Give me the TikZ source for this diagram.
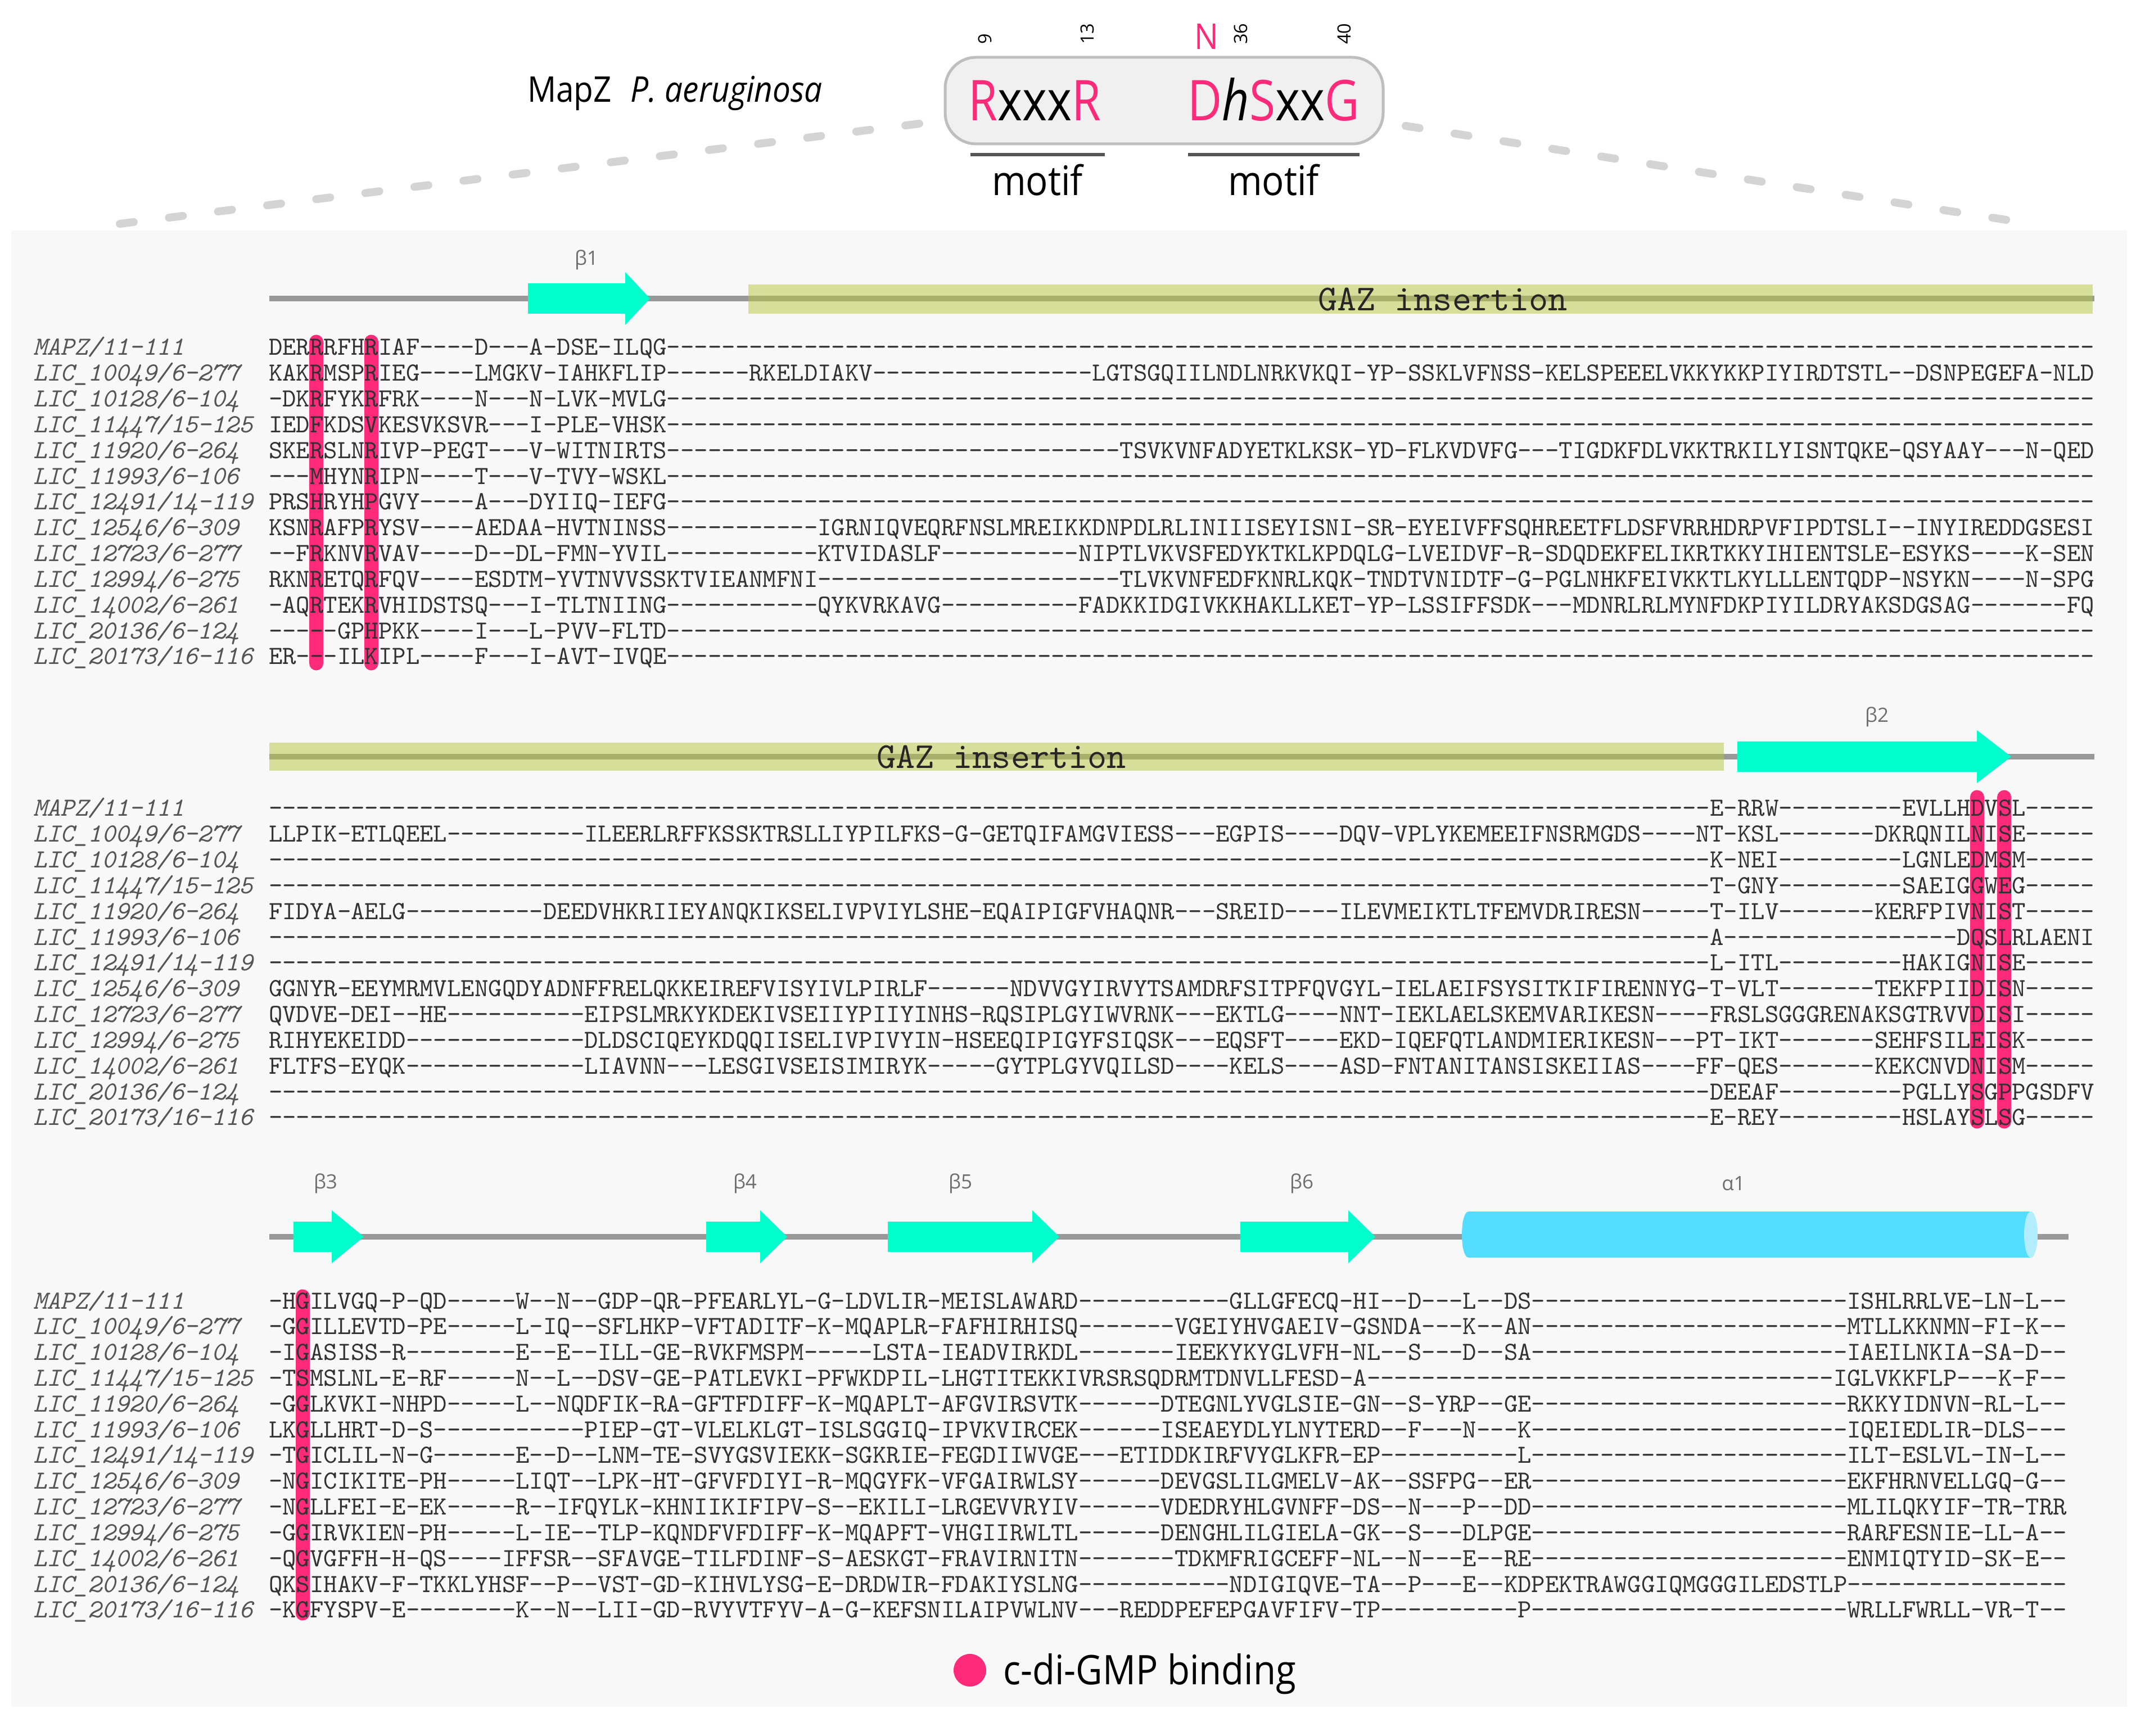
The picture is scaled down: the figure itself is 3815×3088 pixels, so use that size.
\documentclass[tikz,border=0pt]{standalone}
\usepackage{fontspec}
\setmainfont{Open Sans}
\newfontfamily\seqfont{lmmono10-regular}[Extension=.otf, ItalicFont=lmmono10-italic]
\usepackage{graphicx}

\definecolor{bindpink}{RGB}{255,42,122}
\definecolor{strandcol}{RGB}{0,255,204}
\definecolor{helixcol}{RGB}{85,221,255}
\definecolor{helixcap}{RGB}{178,238,255}
\definecolor{gazcol}{RGB}{181,200,62}
\definecolor{bbgray}{RGB}{153,153,153}
\definecolor{panelcol}{RGB}{248,248,248}
\definecolor{boxfill}{RGB}{240,240,240}
\definecolor{boxline}{RGB}{190,190,190}
\definecolor{guidecol}{RGB}{212,212,212}
\definecolor{barcol}{RGB}{85,85,85}
\definecolor{seqgray}{RGB}{50,50,50}
\definecolor{namegray}{RGB}{85,85,85}
\definecolor{labelgray}{RGB}{110,110,110}

% a run of n gaps in the alignment
\ExplSyntaxOn
\cs_new:Npn \gp #1 { \prg_replicate:nn {#1} {-} }
\ExplSyntaxOff

% the labels of the original are set a bit narrow
\newcommand\sqz[2][0.9]{\scalebox{#1}[1]{#2}}

% beta strand: start, base of the head, tip, height of the track
\newcommand\strand[4]{%
  \fill[strandcol] (#1,#4-27) -- (#2,#4-27) -- (#2,#4-47) -- (#3,#4)
    -- (#2,#4+47) -- (#2,#4+27) -- (#1,#4+27) -- cycle;}

\tikzset{
  seqrow/.style={anchor=base west, inner sep=0pt, text=seqgray,
    font=\seqfont\fontsize{9.3}{10}\selectfont},
  seqname/.style={anchor=base west, inner sep=0pt, text=namegray,
    font=\seqfont\itshape\fontsize{9.3}{10}\selectfont},
  backbone/.style={draw=bbgray, line width=2pt},
  gazbox/.style={fill=gazcol, fill opacity=0.5},
  gaztext/.style={anchor=base, inner sep=0pt, text=black!85,
    font=\seqfont\fontsize{13}{13}\selectfont},
  sslabel/.style={inner sep=0pt, text=labelgray, font=\fontsize{7}{7}\selectfont},
  bindbar/.style={draw=bindpink, line width=5pt, line cap=round},
  motifbox/.style={draw=boxline, fill=boxfill, line width=1pt, rounded corners=11pt,
    minimum width=155.8pt, minimum height=30.8pt, inner sep=0pt},
  motiftext/.style={anchor=base, inner sep=0pt, font=\fontsize{20}{20}\selectfont},
  motifbar/.style={draw=barcol, line width=1.2pt},
  labeltext/.style={inner sep=0pt, font=\fontsize{14.5}{15}\selectfont},
  posnum/.style={rotate=90, anchor=west, inner sep=0pt, font=\fontsize{6.5}{6.5}\selectfont},
  zoomline/.style={draw=guidecol, line width=2.8pt, line cap=round, dash pattern=on 5pt off 12.6pt},
}

\begin{document}
\begin{tikzpicture}[x=0.2pt,y=-0.2pt]
  % one unit is one pixel of the original figure, y runs downwards
  \def\seqx{477}    % left edge of the alignment
  \def\colw{24.41}  % width of one alignment column
  \def\rowh{45.83}  % distance between two rows
  \def\yA{618}      % first row, block 1
  \def\yB{1438}     % first row, block 2
  \def\yC{2314}     % first row, block 3

  \useasboundingbox (0,0) rectangle (3815,3088);
  \fill[white] (0,0) rectangle (3815,3088);

  % paint the grey panel behind the alignment
  \fill[panelcol] (20,410) rectangle (3783,3036);

  % motif box on top, with the zoom lines down to the panel
  \coordinate (motifL) at (1635,220);
  \coordinate (motifR) at (2500,224);
  \coordinate (zoomL) at (182,402);
  \coordinate (zoomR) at (3625,400);
  \draw[zoomline] (motifL) -- (zoomL);
  \draw[zoomline] (motifR) -- (zoomR);
  \node[motifbox] (motif) at (2070.5,179) {};

  \node[anchor=base west, inner sep=0pt, font=\fontsize{12.6}{13}\selectfont] (title)
    at (937,182) {\sqz{MapZ\hspace{0.6em}\textit{P. aeruginosa}}};

  \node[motiftext] (motifA) at (1840,215)
    {\sqz[0.84]{{\color{bindpink}R}xxx{\color{bindpink}R}}};
  \node[motiftext] (motifB) at (2265,215)
    {\sqz[0.84]{{\color{bindpink}D}\textit{h}{\color{bindpink}S}xx{\color{bindpink}G}}};

  % residue numbers above the motifs
  \node[posnum] (p9) at (1752,80) {9};
  \node[posnum] (p13) at (1934,80) {13};
  \node[posnum] (p36) at (2207,80) {36};
  \node[posnum] (p40) at (2391,80) {40};
  \node[anchor=base, inner sep=0pt, text=bindpink, font=\fontsize{12.6}{13}\selectfont] (pN)
    at (2146,88) {\sqz{N}};

  % motif underlines and labels
  \draw[motifbar] (1726,275) -- (1965,275);
  \draw[motifbar] (2113,275) -- (2418,275);
  \node[labeltext, anchor=base] (lblA) at (1845,348) {\sqz{motif}};
  \node[labeltext, anchor=base] (lblB) at (2265,348) {\sqz{motif}};

  % block 1 secondary structure
  \draw[backbone] (479,531) -- (3725,531);
  \strand{939}{1112}{1156}{531}
  \fill[gazbox] (1331,506) rectangle (3722,558);
  \node[gaztext] (gazA) at (2566,553) {GAZ insertion};
  \node[sslabel] (b1) at (1043,462) {β1};

  % block 2 secondary structure
  \draw[backbone] (479,1346) -- (3725,1346);
  \fill[gazbox] (479,1321) rectangle (3066,1371);
  \node[gaztext] (gazB) at (1781,1366) {GAZ insertion};
  \strand{3090}{3516}{3577}{1346}
  \node[sslabel] (b2) at (3338,1275) {β2};

  % block 3 secondary structure
  \draw[backbone] (479,2200) -- (3679,2200);
  \strand{522}{590}{647}{2200}
  \strand{1256}{1352}{1400}{2200}
  \strand{1579}{1836}{1884}{2200}
  \strand{2206}{2398}{2446}{2200}
  \fill[helixcol] (3612,2155) -- (2612,2155) .. controls (2596,2155) and (2596,2237) .. (2612,2237)
    -- (3612,2237) -- cycle;
  \fill[helixcap] (3612,2196) ellipse [x radius=12, y radius=41];
  \node[sslabel] (b3) at (579,2105) {β3};
  \node[sslabel] (b4) at (1325,2105) {β4};
  \node[sslabel] (b5) at (1708,2105) {β5};
  \node[sslabel] (b6) at (2315,2105) {β6};
  \node[sslabel] (a1) at (3083,2105) {α1};

  % c-di-GMP binding columns
  \foreach \col in {3,7}
    \draw[bindbar] (\seqx+\col*\colw+0.5*\colw, \yA-10) -- ++(0,12*\rowh+22);
  \foreach \col in {124,126}
    \draw[bindbar] (\seqx+\col*\colw+0.5*\colw, \yB-20) -- ++(0,12*\rowh+27);
  \draw[bindbar] (\seqx+2.5*\colw, \yC-8) -- ++(0,12*\rowh+14);

  % sequence names, the same in every block
  \foreach \nm [count=\rr from 0] in {MAPZ/11-111, LIC\_10049/6-277, LIC\_10128/6-104,
      LIC\_11447/15-125, LIC\_11920/6-264, LIC\_11993/6-106, LIC\_12491/14-119,
      LIC\_12546/6-309, LIC\_12723/6-277, LIC\_12994/6-275, LIC\_14002/6-261,
      LIC\_20136/6-124, LIC\_20173/16-116}
    \foreach \by [count=\blk] in {\yA,\yB,\yC}
      \node[seqname] (name\blk-\rr) at (58, \by+\rr*\rowh+14) {\nm};

  % block 1
  \foreach \sq [count=\rr from 0] in {
      DERRRFHRIAF----D---A-DSE-ILQG\gp{104},
      KAKRMSPRIEG----LMGKV-IAHKFLIP------RKELDIAKV\gp{16}LGTSGQIILNDLNRKVKQI-YP-SSKLVFNSS-KELSPEEELVKKYKKPIYIRDTSTL--DSNPEGEFA-NLD,
      -DKRFYKRFRK----N---N-LVK-MVLG\gp{104},
      IEDFKDSVKESVKSVR---I-PLE-VHSK\gp{104},
      SKERSLNRIVP-PEGT---V-WITNIRTS\gp{33}TSVKVNFADYETKLKSK-YD-FLKVDVFG---TIGDKFDLVKKTRKILYISNTQKE-QSYAAY---N-QED,
      ---MHYNRIPN----T---V-TVY-WSKL\gp{104},
      PRSHRYHPGVY----A---DYIIQ-IEFG\gp{104},
      KSNRAFPRYSV----AEDAA-HVTNINSS\gp{11}IGRNIQVEQRFNSLMREIKKDNPDLRLINIIISEYISNI-SR-EYEIVFFSQHREETFLDSFVRRHDRPVFIPDTSLI--INYIREDDGSESI,
      --FRKNVRVAV----D--DL-FMN-YVIL\gp{11}KTVIDASLF\gp{10}NIPTLVKVSFEDYKTKLKPDQLG-LVEIDVF-R-SDQDEKFELIKRTKKYIHIENTSLE-ESYKS----K-SEN,
      RKNRETQRFQV----ESDTM-YVTNVVSSKTVIEANMFNI\gp{22}TLVKVNFEDFKNRLKQK-TNDTVNIDTF-G-PGLNHKFEIVKKTLKYLLLENTQDP-NSYKN----N-SPG,
      -AQRTEKRVHIDSTSQ---I-TLTNIING\gp{11}QYKVRKAVG\gp{10}FADKKIDGIVKKHAKLLKET-YP-LSSIFFSDK---MDNRLRLMYNFDKPIYILDRYAKSDGSAG-------FQ,
      -----GPHPKK----I---L-PVV-FLTD\gp{104},
      ER---ILKIPL----F---I-AVT-IVQE\gp{104}}
    \node[seqrow] (seqA-\rr) at (\seqx, \yA+\rr*\rowh+14) {\sq};

  % block 2
  \foreach \sq [count=\rr from 0] in {
      \gp{105}E-RRW\gp{9}EVLLHDVSL-----,
      LLPIK-ETLQEEL\gp{10}ILEERLRFFKSSKTRSLLIYPILFKS-G-GETQIFAMGVIESS---EGPIS----DQV-VPLYKEMEEIFNSRMGDS----NT-KSL-------DKRQNILNISE-----,
      \gp{105}K-NEI\gp{9}LGNLEDMSM-----,
      \gp{105}T-GNY\gp{9}SAEIGGWEG-----,
      FIDYA-AELG\gp{10}DEEDVHKRIIEYANQKIKSELIVPVIYLSHE-EQAIPIGFVHAQNR---SREID----ILEVMEIKTLTFEMVDRIRESN-----T-ILV-------KERFPIVNIST-----,
      \gp{105}A\gp{17}DQSLRLAENI,
      \gp{105}L-ITL\gp{9}HAKIGNISE-----,
      GGNYR-EEYMRMVLENGQDYADNFFRELQKKEIREFVISYIVLPIRLF------NDVVGYIRVYTSAMDRFSITPFQVGYL-IELAEIFSYSITKIFIRENNYG-T-VLT-------TEKFPIIDISN-----,
      QVDVE-DEI--HE\gp{10}EIPSLMRKYKDEKIVSEIIYPIIYINHS-RQSIPLGYIWVRNK---EKTLG----NNT-IEKLAELSKEMVARIKESN----FRSLSGGGRENAKSGTRVVDISI-----,
      RIHYEKEIDD\gp{13}DLDSCIQEYKDQQIISELIVPIVYIN-HSEEQIPIGYFSIQSK---EQSFT----EKD-IQEFQTLANDMIERIKESN---PT-IKT-------SEHFSILEISK-----,
      FLTFS-EYQK\gp{13}LIAVNN---LESGIVSEISIMIRYK-----GYTPLGYVQILSD----KELS----ASD-FNTANITANSISKEIIAS----FF-QES-------KEKCNVDNISM-----,
      \gp{105}DEEAF\gp{9}PGLLYSGPPGSDFV,
      \gp{105}E-REY\gp{9}HSLAYSLSG-----}
    \node[seqrow] (seqB-\rr) at (\seqx, \yB+\rr*\rowh+14) {\sq};

  % block 3
  \foreach \sq [count=\rr from 0] in {
      -HGILVGQ-P-QD-----W--N--GDP-QR-PFEARLYL-G-LDVLIR-MEISLAWARD\gp{11}GLLGFECQ-HI--D---L--DS\gp{23}ISHLRRLVE-LN-L--,
      -GGILLEVTD-PE-----L-IQ--SFLHKP-VFTADITF-K-MQAPLR-FAFHIRHISQ-------VGEIYHVGAEIV-GSNDA---K--AN\gp{23}MTLLKKNMN-FI-K--,
      -IGASISS-R--------E--E--ILL-GE-RVKFMSPM-----LSTA-IEADVIRKDL-------IEEKYKYGLVFH-NL--S---D--SA\gp{23}IAEILNKIA-SA-D--,
      -TSMSLNL-E-RF-----N--L--DSV-GE-PATLEVKI-PFWKDPIL-LHGTITEKKIVRSRSQDRMTDNVLLFESD-A\gp{34}IGLVKKFLP---K-F--,
      -GGLKVKI-NHPD-----L--NQDFIK-RA-GFTFDIFF-K-MQAPLT-AFGVIRSVTK------DTEGNLYVGLSIE-GN--S-YRP--GE\gp{23}RKKYIDNVN-RL-L--,
      LKGLLHRT-D-S\gp{11}PIEP-GT-VLELKLGT-ISLSGGIQ-IPVKVIRCEK------ISEAEYDLYLNYTERD--F---N---K\gp{23}IQEIEDLIR-DLS---,
      -TGICLIL-N-G------E--D--LNM-TE-SVYGSVIEKK-SGKRIE-FEGDIIWVGE---ETIDDKIRFVYGLKFR-EP\gp{10}L\gp{23}ILT-ESLVL-IN-L--,
      -NGICIKITE-PH-----LIQT--LPK-HT-GFVFDIYI-R-MQGYFK-VFGAIRWLSY------DEVGSLILGMELV-AK--SSFPG--ER\gp{23}EKFHRNVELLGQ-G--,
      -NGLLFEI-E-EK-----R--IFQYLK-KHNIIKIFIPV-S--EKILI-LRGEVVRYIV------VDEDRYHLGVNFF-DS--N---P--DD\gp{23}MLILQKYIF-TR-TRR,
      -GGIRVKIEN-PH-----L-IE--TLP-KQNDFVFDIFF-K-MQAPFT-VHGIIRWLTL------DENGHLILGIELA-GK--S---DLPGE\gp{23}RARFESNIE-LL-A--,
      -QGVGFFH-H-QS----IFFSR--SFAVGE-TILFDINF-S-AESKGT-FRAVIRNITN-------TDKMFRIGCEFF-NL--N---E--RE\gp{23}ENMIQTYID-SK-E--,
      QKSIHAKV-F-TKKLYHSF--P--VST-GD-KIHVLYSG-E-DRDWIR-FDAKIYSLNG\gp{11}NDIGIQVE-TA--P---E--KDPEKTRAWGGIQMGGGILEDSTLP\gp{16},
      -KGFYSPV-E--------K--N--LII-GD-RVYVTFYV-A-G-KEFSNILAIPVWLNV---REDDPEFEPGAVFIFV-TP\gp{10}P\gp{23}WRLLFWRLL-VR-T--}
    \node[seqrow] (seqC-\rr) at (\seqx, \yC+\rr*\rowh+14) {\sq};

  % legend
  \node[circle, fill=bindpink, inner sep=0pt, minimum size=11.6pt] (legdot) at (1725,2971) {};
  \node[labeltext, anchor=base west] (legtext) at (1783,2996) {\sqz{c-di-GMP binding}};
\end{tikzpicture}
\end{document}
